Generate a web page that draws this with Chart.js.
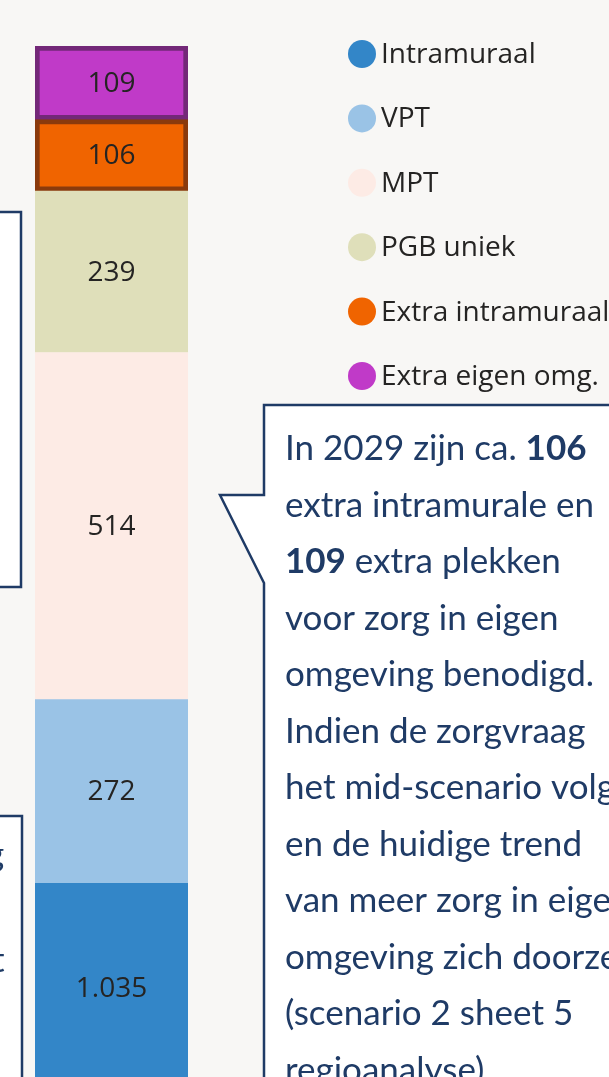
<!DOCTYPE html>
<html>
<head>
<meta charset="utf-8">
<script src="https://cdn.jsdelivr.net/npm/chart.js@4.4.1/dist/chart.umd.min.js"></script>
<style>
  html, body { margin: 0; padding: 0; background: #f8f7f5; overflow: hidden; }
  #wrap { position: relative; width: 609px; height: 1077px; }
</style>
</head>
<body>
<div id="wrap"><canvas id="chart" width="609" height="1077"></canvas></div>
<script>
// Data
const categories = ['2029'];
const seriesLabels = ['Intramuraal', 'VPT', 'MPT', 'PGB uniek', 'Extra intramuraal', 'Extra eigen omg.'];
const intramuraal = [1035];
const vpt = [272];
const mpt = [514];
const pgbUniek = [239];
const extraIntramuraal = [106];
const extraEigenOmg = [109];

// visible window of the value axis (the bar runs off the bottom)
const yMin = 748;
const yMax = 2275;

const calloutLines = [
    [['In 2029 zijn ca. ', false], ['106', true]],
    [['extra intramurale en', false]],
    [['109', true], [' extra plekken', false]],
    [['voor zorg in eigen', false]],
    [['omgeving benodigd.', false]],
    [['Indien de zorgvraag', false]],
    [['het mid-scenario volgt', false]],
    [['en de huidige trend', false]],
    [['van meer zorg in eigen', false]],
    [['omgeving zich doorzet', false]],
    [['(scenario 2 sheet 5', false]],
    [['regioanalyse).', false]]
];

const NAVY = '#1f3b66';

function fmt(v) {
    return String(v).replace(/\B(?=(\d{3})+(?!\d))/g, '.');
}

// Background boxes and callout (drawn before the bars)
const backdrop = {
    id: 'backdrop',
    beforeDraw(chart) {
        const ctx = chart.ctx;
        ctx.save();
        ctx.fillStyle = '#ffffff';
        ctx.strokeStyle = NAVY;
        ctx.lineWidth = 2.5;
        // partial boxes on the left
        ctx.fillRect(-10, 212, 31, 375);
        ctx.strokeRect(-10, 212, 31, 375);
        ctx.fillRect(-10, 816, 32, 280);
        ctx.strokeRect(-10, 816, 32, 280);
        ctx.fillStyle = NAVY;
        ctx.font = '35px Lato';
        ctx.textBaseline = 'alphabetic';
        ctx.fillText('g', -14, 866);
        ctx.fillText('t', -8, 972);

        // callout with pointer
        ctx.beginPath();
        ctx.moveTo(264, 405);
        ctx.lineTo(640, 405);
        ctx.lineTo(640, 1100);
        ctx.lineTo(264, 1100);
        ctx.lineTo(264, 583);
        ctx.lineTo(220, 495);
        ctx.lineTo(264, 495);
        ctx.closePath();
        ctx.fillStyle = '#ffffff';
        ctx.fill();
        ctx.stroke();
        ctx.restore();
    },
    afterDraw(chart) {
        const ctx = chart.ctx;
        ctx.save();
        ctx.fillStyle = NAVY;
        ctx.textBaseline = 'alphabetic';
        calloutLines.forEach((parts, i) => {
            let x = 285;
            const y = 460 + i * 56.5;
            parts.forEach(([txt, bold]) => {
                ctx.font = (bold ? 'bold ' : '') + '35px Lato';
                ctx.fillText(txt, x, y);
                x += ctx.measureText(txt).width;
            });
        });
        ctx.restore();
    }
};

// Value labels centred in the visible part of each segment
const valueLabels = {
    id: 'valueLabels',
    afterDatasetsDraw(chart) {
        const ctx = chart.ctx;
        const area = chart.chartArea;
        ctx.save();
        ctx.font = '28px "Open Sans"';
        ctx.fillStyle = '#252423';
        ctx.textAlign = 'center';
        ctx.textBaseline = 'middle';
        chart.data.datasets.forEach((ds, i) => {
            const bar = chart.getDatasetMeta(i).data[0];
            const top = Math.max(Math.min(bar.y, bar.base), area.top);
            // the lowest segment continues below the picture
            const bottom = Math.min(Math.max(bar.y, bar.base), area.bottom + 16);
            ctx.fillText(fmt(ds.data[0]), bar.x, (top + bottom) / 2 + 1);
        });
        ctx.restore();
    }
};

// Legend with round markers
const roundLegend = {
    id: 'roundLegend',
    afterDraw(chart) {
        const ctx = chart.ctx;
        ctx.save();
        ctx.font = '28px "Open Sans"';
        ctx.textBaseline = 'middle';
        ctx.textAlign = 'left';
        chart.data.datasets.forEach((ds, i) => {
            const y = 54 + i * 64.4;
            ctx.beginPath();
            ctx.arc(362, y, 14, 0, Math.PI * 2);
            ctx.fillStyle = ds.backgroundColor;
            ctx.fill();
            ctx.fillStyle = '#252423';
            ctx.fillText(ds.label, 381, y + 1);
        });
        ctx.restore();
    }
};

const fills = ['#3386c8', '#9ac3e6', '#fdebe5', '#dfdfba', '#f06400', '#c03ac8'];
const borders = [null, null, null, null, '#8a3a0c', '#732878'];
const values = [intramuraal, vpt, mpt, pgbUniek, extraIntramuraal, extraEigenOmg];

new Chart(document.getElementById('chart').getContext('2d'), {
    type: 'bar',
    data: {
        labels: categories,
        datasets: seriesLabels.map((label, i) => ({
            label: label,
            data: values[i],
            backgroundColor: fills[i],
            borderColor: borders[i] || fills[i],
            borderWidth: borders[i] ? 5 : 0,
            borderSkipped: false,
            categoryPercentage: 1,
            barPercentage: 1
        }))
    },
    options: {
        responsive: false,
        animation: false,
        devicePixelRatio: 1,
        layout: { padding: { left: 35, right: 421, top: 46, bottom: 0 } },
        plugins: {
            legend: { display: false },
            tooltip: { enabled: false }
        },
        scales: {
            x: { stacked: true, display: false },
            y: { stacked: true, display: false, min: yMin, max: yMax }
        }
    },
    plugins: [backdrop, valueLabels, roundLegend]
});
</script>
</body>
</html>
